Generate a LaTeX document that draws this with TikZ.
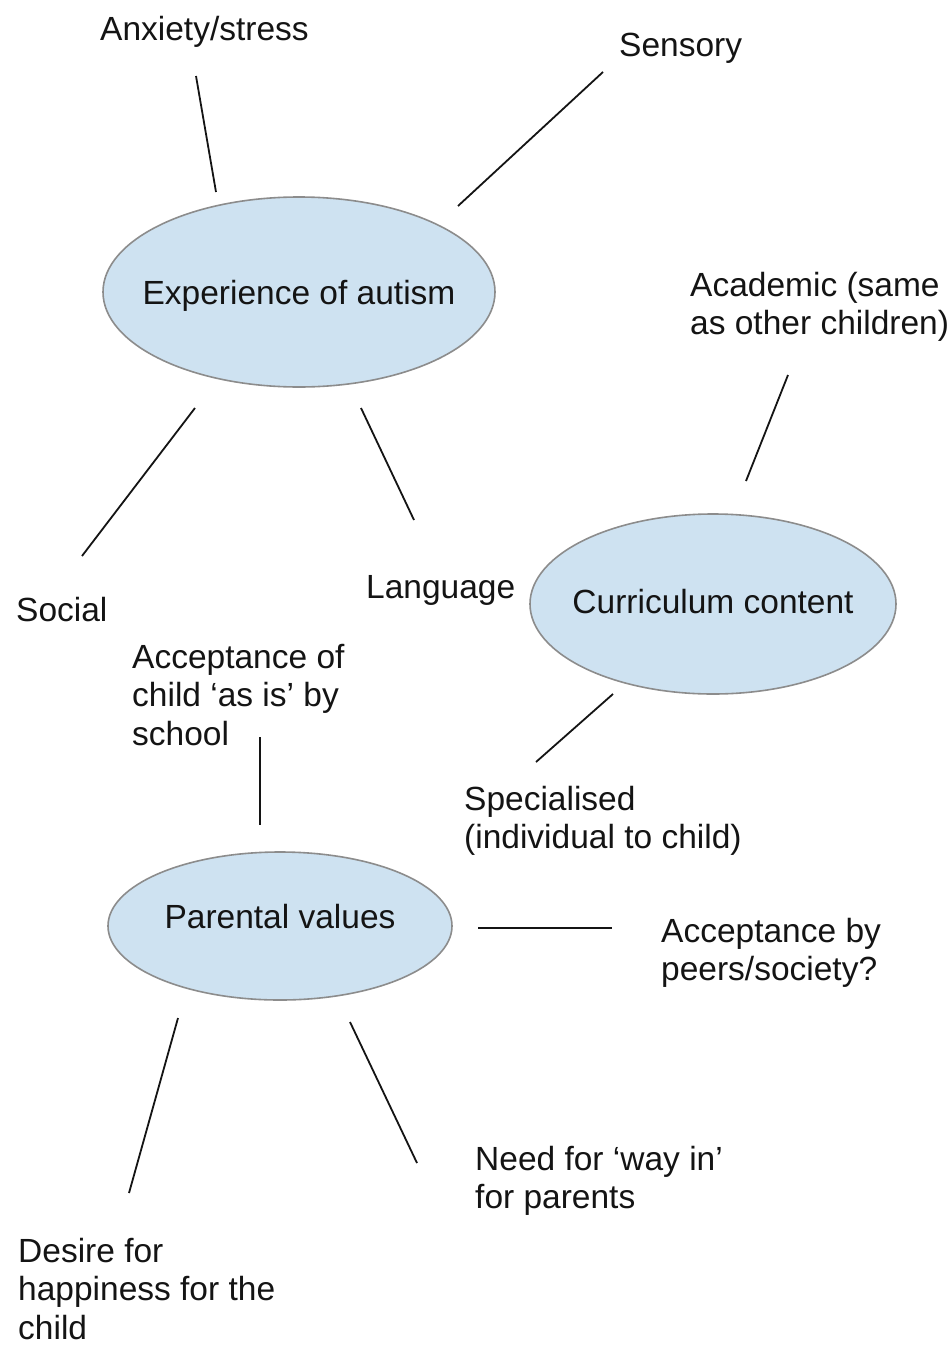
\documentclass[tikz,border=0pt]{standalone}
\usepackage{fontspec}
\setmainfont{Liberation Sans}
\usetikzlibrary{shapes.geometric}
\definecolor{bubble}{RGB}{206,226,241}
\definecolor{rim}{RGB}{140,140,140}
\definecolor{ink}{RGB}{20,20,20}
\begin{document}
\begin{tikzpicture}[x=1pt,y=-1pt,
  bub/.style={shape=ellipse, draw=rim, line width=1.6pt, fill=bubble, inner sep=0pt},
  bubtxt/.style={inner sep=0pt, text height=24pt, text depth=0pt,
     font=\fontsize{33.5}{38}\selectfont, text=ink},
  lbl/.style={anchor=north west, inner sep=0pt, align=left,
     font=\fontsize{33.5}{38.5}\selectfont, text=ink},
  link/.style={draw=ink, line width=1.8pt}]
\path[use as bounding box, fill=white] (0,0) rectangle (952,1349);

% ellipses
\node[bub, minimum width=392pt, minimum height=190pt,
  label={[bubtxt]center:Experience of autism}] (exp) at (299,292) {};
\node[bub, minimum width=366pt, minimum height=180pt,
  label={[bubtxt, yshift=3pt]center:Curriculum content}] (cur) at (713,604) {};
\node[bub, minimum width=344pt, minimum height=148pt,
  label={[bubtxt, yshift=10pt]center:Parental values}] (par) at (280,926) {};

% labels
\node[lbl] (anx) at (100,16) {Anxiety/stress};
\node[lbl] (sen) at (619,33) {Sensory};
\node[lbl] (aca) at (690,272) {Academic (same\\as other children)};
\node[lbl] (soc) at (16,597) {Social};
\node[lbl] (lan) at (366,575) {Language};
\node[lbl] (acc) at (132,644) {Acceptance of\\child `as is' by\\school};
\node[lbl] (spe) at (464,786) {Specialised\\(individual to child)};
\node[lbl] (pee) at (661,918) {Acceptance by\\peers/society?};
\node[lbl] (way) at (475,1146) {Need for `way in'\\for parents};
\node[lbl] (des) at (18,1238) {Desire for\\happiness for the\\child};

% connector ends
\coordinate (anxA) at (196,76);   \coordinate (anxB) at (216,192);
\coordinate (senA) at (603,72);   \coordinate (senB) at (458,206);
\coordinate (socA) at (195,408);  \coordinate (socB) at (82,556);
\coordinate (lanA) at (361,408);  \coordinate (lanB) at (414,520);
\coordinate (acaA) at (788,375);  \coordinate (acaB) at (746,481);
\coordinate (speA) at (613,694);  \coordinate (speB) at (536,762);
\coordinate (accA) at (260,737);  \coordinate (accB) at (260,825);
\coordinate (peeA) at (478,928);  \coordinate (peeB) at (612,928);
\coordinate (wayA) at (350,1022); \coordinate (wayB) at (417,1163);
\coordinate (desA) at (178,1018); \coordinate (desB) at (129,1193);

\foreach \n in {anx,sen,soc,lan,aca,spe,acc,pee,way,des}
  \draw[link] (\n A) -- (\n B);
\end{tikzpicture}
\end{document}
